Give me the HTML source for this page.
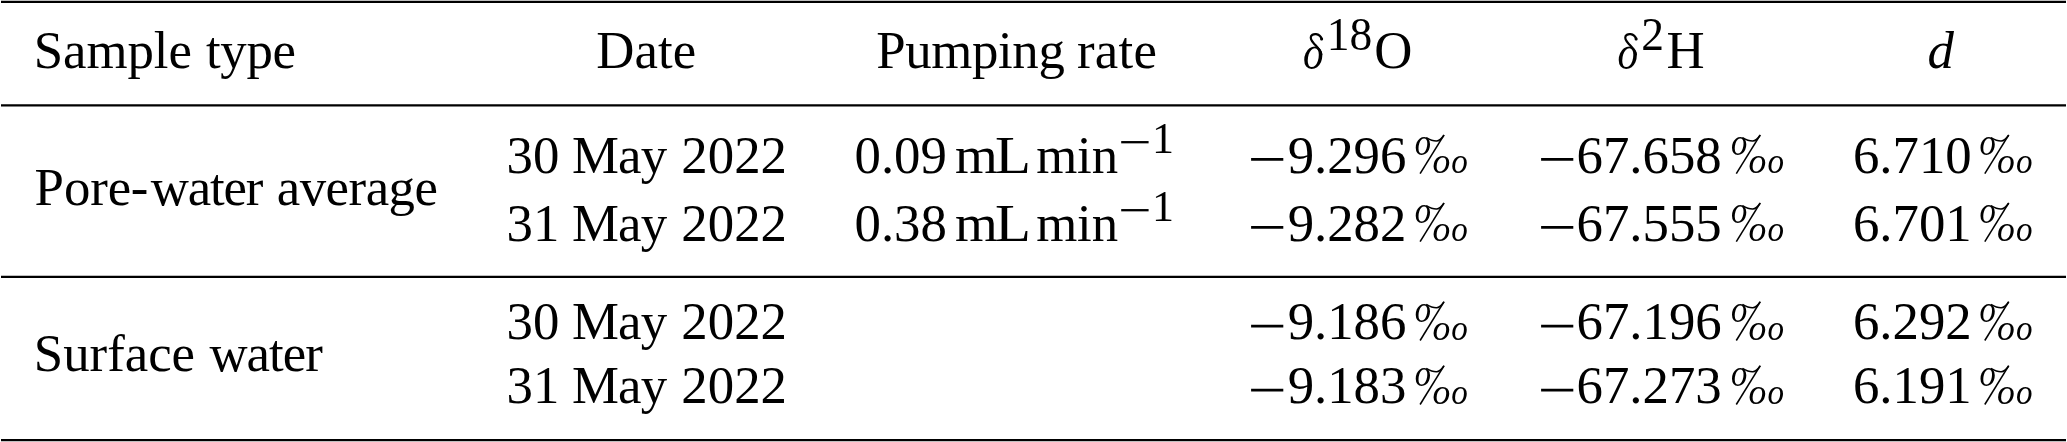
<!DOCTYPE html>
<html><head><meta charset="utf-8"><title>Table</title>
<style>
html,body{margin:0;padding:0;background:#fff;}
body{width:2067px;height:442px;position:relative;overflow:hidden;font-family:"Liberation Serif",serif;color:#000;}
#wrap{position:absolute;left:0;top:0;width:2067px;height:442px;will-change:transform;}
.r{position:absolute;left:1px;width:2065px;background:#000;}
.t{position:absolute;white-space:nowrap;font-size:52.8px;line-height:60px;height:60px;margin-top:-47.820px;}
.s{font-size:45.5px;margin-top:-45.356px;}
.q{font-size:44px;margin-top:-44.850px;}
.i{font-style:italic;}
.m{position:absolute;height:2.2px;background:#000;}
</style></head>
<body>
<div id="wrap">
<svg width="2067" height="442" viewBox="0 0 2067 442" style="position:absolute;left:0;top:0"><defs><g id="pm"><text transform="translate(-0.7,-17.5) scale(0.88,1)" font-size="37" font-style="italic">o</text><text transform="translate(16.9,0.41) scale(0.97,1)" font-size="36.7" font-style="italic">o</text><text transform="translate(35.8,0.41) scale(0.9,1)" font-size="36.7" font-style="italic">o</text><path d="M28.6,-37.6 L4.6,1.2" stroke="#000" stroke-width="1.55" fill="none"/><path d="M10.8,-34.9 C14,-33 17.2,-31.4 21,-31.5 C24,-31.6 26.2,-34 28.4,-37.3" stroke="#000" stroke-width="1.6" fill="none"/></g><g id="dl"><text transform="translate(-0.5,0.6) scale(0.83,1)" font-size="49.5" font-style="italic">o</text><path d="M17.9,-14 C17.4,-18 13.6,-21.4 10.4,-24.9 C7.6,-28 6.7,-30 7.5,-32 C8.4,-34.1 10.5,-34.4 12.6,-34.2 C15.4,-33.9 17.3,-32 18.2,-29.3" stroke="#000" stroke-width="2.2" stroke-linecap="round" fill="none"/><circle cx="18.1" cy="-29.4" r="1.55"/></g></defs><g font-family="Liberation Serif" fill="#000"><line x1="1" y1="1.9" x2="2066" y2="1.9" stroke="#000" stroke-width="2.2"/><line x1="1" y1="105.3" x2="2066" y2="105.3" stroke="#000" stroke-width="2.2"/><line x1="1" y1="276.9" x2="2066" y2="276.9" stroke="#000" stroke-width="2.2"/><line x1="1" y1="440.1" x2="2066" y2="440.1" stroke="#000" stroke-width="2.2"/><use href="#dl" x="1303.50" y="68.3"/><use href="#dl" x="1618.00" y="68.3"/><line x1="1251.1" y1="159.40" x2="1283.3" y2="159.40" stroke="#000" stroke-width="2.8"/><line x1="1541.1" y1="159.40" x2="1573.3" y2="159.40" stroke="#000" stroke-width="2.8"/><use href="#pm" x="1415.5" y="172.5"/><use href="#pm" x="1731.7" y="172.5"/><use href="#pm" x="1980.2" y="172.5"/><line x1="1251.1" y1="227.40" x2="1283.3" y2="227.40" stroke="#000" stroke-width="2.8"/><line x1="1541.1" y1="227.40" x2="1573.3" y2="227.40" stroke="#000" stroke-width="2.8"/><use href="#pm" x="1415.5" y="240.5"/><use href="#pm" x="1731.7" y="240.5"/><use href="#pm" x="1980.2" y="240.5"/><line x1="1251.1" y1="326.20" x2="1283.3" y2="326.20" stroke="#000" stroke-width="2.8"/><line x1="1541.1" y1="326.20" x2="1573.3" y2="326.20" stroke="#000" stroke-width="2.8"/><use href="#pm" x="1415.5" y="339.3"/><use href="#pm" x="1731.7" y="339.3"/><use href="#pm" x="1980.2" y="339.3"/><line x1="1251.1" y1="390.20" x2="1283.3" y2="390.20" stroke="#000" stroke-width="2.8"/><line x1="1541.1" y1="390.20" x2="1573.3" y2="390.20" stroke="#000" stroke-width="2.8"/><use href="#pm" x="1415.5" y="403.3"/><use href="#pm" x="1731.7" y="403.3"/><use href="#pm" x="1980.2" y="403.3"/><line x1="1121.2" y1="142.20" x2="1148.6" y2="142.20" stroke="#000" stroke-width="2.3"/><line x1="1121.2" y1="210.20" x2="1148.6" y2="210.20" stroke="#000" stroke-width="2.3"/></g></svg>
<div class="t " style="left:33.69px;top:68.30px;letter-spacing:-0.020px;">Sample</div>
<div class="t " style="left:205.88px;top:68.30px;letter-spacing:-0.263px;">type</div>
<div class="t " style="left:596.27px;top:68.30px;letter-spacing:0.069px;">Date</div>
<div class="t " style="left:876.27px;top:68.30px;letter-spacing:-0.360px;">Pumping</div>
<div class="t " style="left:1077.06px;top:68.30px;letter-spacing:0.246px;">rate</div>
<div class="t " style="left:1374.28px;top:68.30px;">O</div>
<div class="t " style="left:1666.55px;top:68.30px;">H</div>
<div class="t i" style="left:1927.38px;top:68.30px;">d</div>
<div class="t s" style="left:1326.75px;top:50.40px;">18</div>
<div class="t s" style="left:1641.18px;top:50.40px;">2</div>
<div class="t " style="left:34.55px;top:204.40px;letter-spacing:-0.021px;">Pore</div>
<div class="t " style="left:130.75px;top:204.40px;">-</div>
<div class="t " style="left:150.74px;top:204.40px;letter-spacing:-1.133px;">water</div>
<div class="t " style="left:276.77px;top:204.40px;letter-spacing:-0.493px;">average</div>
<div class="t " style="left:33.75px;top:371.20px;letter-spacing:0.013px;">Surface</div>
<div class="t " style="left:209.42px;top:371.20px;letter-spacing:-0.939px;">water</div>
<div class="t " style="left:506.62px;top:172.50px;">30</div>
<div class="t " style="left:571.88px;top:172.50px;letter-spacing:-0.806px;">May</div>
<div class="t " style="left:681.35px;top:172.50px;">2022</div>
<div class="t " style="left:506.62px;top:240.50px;">31</div>
<div class="t " style="left:571.88px;top:240.50px;letter-spacing:-0.806px;">May</div>
<div class="t " style="left:681.35px;top:240.50px;">2022</div>
<div class="t " style="left:506.62px;top:339.30px;">30</div>
<div class="t " style="left:571.88px;top:339.30px;letter-spacing:-0.806px;">May</div>
<div class="t " style="left:681.35px;top:339.30px;">2022</div>
<div class="t " style="left:506.62px;top:403.30px;">31</div>
<div class="t " style="left:571.88px;top:403.30px;letter-spacing:-0.806px;">May</div>
<div class="t " style="left:681.35px;top:403.30px;">2022</div>
<div class="t " style="left:854.52px;top:172.50px;">0.09</div>
<div class="t " style="left:954.52px;top:172.50px;transform:scaleX(1.0414);transform-origin:0 0;">m</div>
<div class="t " style="left:995.08px;top:172.50px;transform:scaleX(1.1148);transform-origin:0 0;">L</div>
<div class="t " style="left:1036.14px;top:172.50px;letter-spacing:-0.088px;">min</div>
<div class="t q" style="left:1152.11px;top:153.40px;">1</div>
<div class="t " style="left:854.52px;top:240.50px;">0.38</div>
<div class="t " style="left:954.52px;top:240.50px;transform:scaleX(1.0414);transform-origin:0 0;">m</div>
<div class="t " style="left:995.08px;top:240.50px;transform:scaleX(1.1148);transform-origin:0 0;">L</div>
<div class="t " style="left:1036.14px;top:240.50px;letter-spacing:-0.088px;">min</div>
<div class="t q" style="left:1152.11px;top:221.40px;">1</div>
<div class="t " style="left:1287.63px;top:172.50px;">9.296</div>
<div class="t " style="left:1576.54px;top:172.50px;">67.658</div>
<div class="t " style="left:1852.90px;top:172.50px;">6.710</div>
<div class="t " style="left:1287.63px;top:240.50px;">9.282</div>
<div class="t " style="left:1576.54px;top:240.50px;">67.555</div>
<div class="t " style="left:1852.90px;top:240.50px;">6.701</div>
<div class="t " style="left:1287.63px;top:339.30px;">9.186</div>
<div class="t " style="left:1576.54px;top:339.30px;">67.196</div>
<div class="t " style="left:1852.90px;top:339.30px;">6.292</div>
<div class="t " style="left:1287.63px;top:403.30px;">9.183</div>
<div class="t " style="left:1576.54px;top:403.30px;">67.273</div>
<div class="t " style="left:1852.90px;top:403.30px;">6.191</div>
</div>
</body></html>
